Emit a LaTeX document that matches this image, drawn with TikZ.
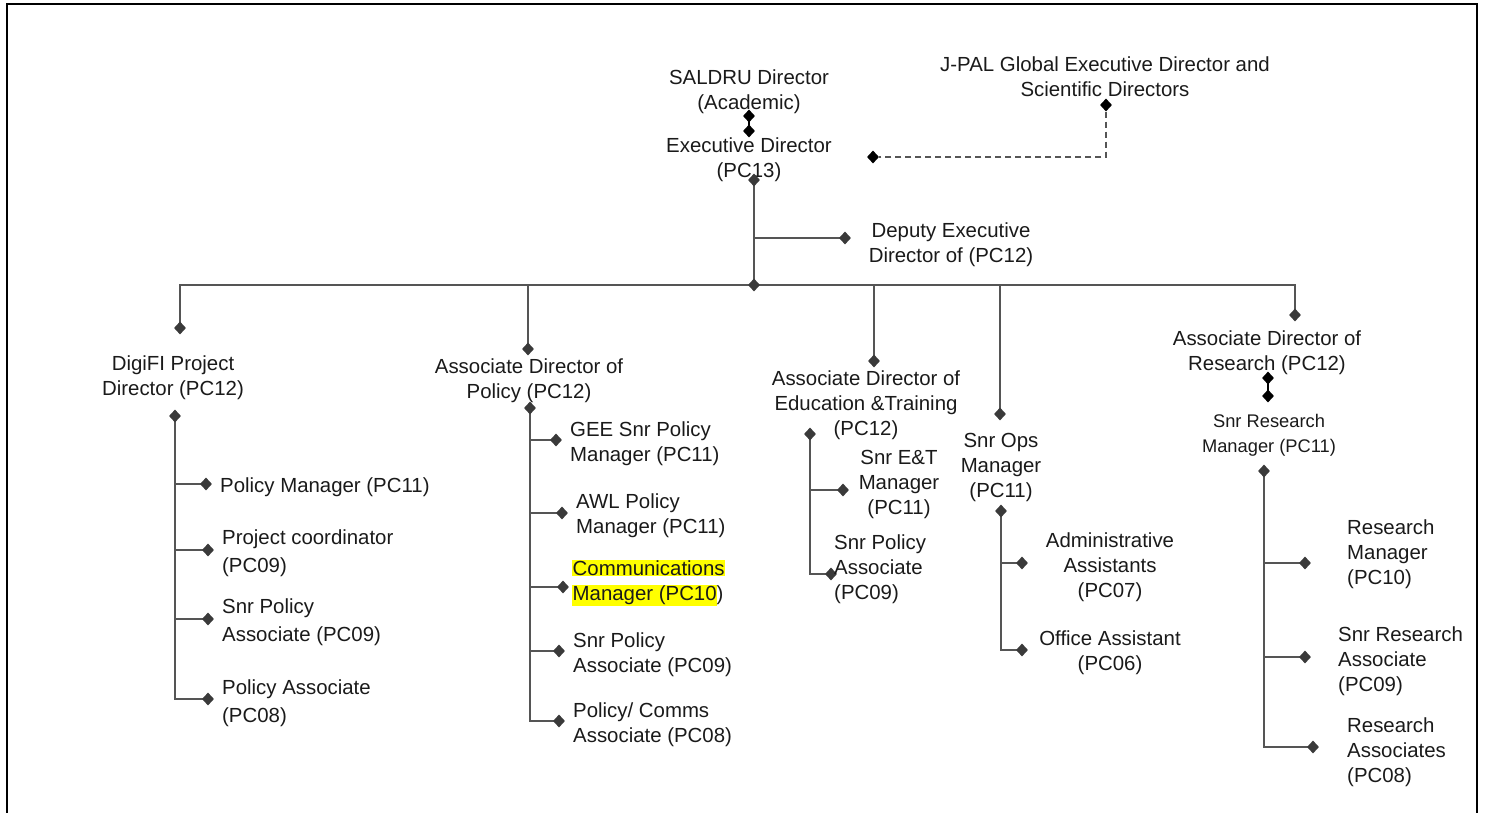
\documentclass[tikz,border=0pt]{standalone}
\usepackage{fontspec}
\setmainfont{Liberation Sans}
\usetikzlibrary{shapes.geometric}
\definecolor{ln}{HTML}{555555}
\definecolor{dm}{HTML}{3A3A3A}
\definecolor{txt}{HTML}{1A1A1A}
\definecolor{hlt}{HTML}{FFFF00}
\setlength{\fboxsep}{0.5pt}
\begin{document}
\begin{tikzpicture}[x=1pt,y=-1pt,
  lbl/.style={font=\fontsize{20.4}{25}\selectfont, inner sep=0pt, text=txt, align=center, yshift=-3pt},
  lbls/.style={lbl, font=\fontsize{18.3}{25}\selectfont},
  lbll/.style={lbl, align=left, anchor=west},
  lblw/.style={lbll, font=\fontsize{20.4}{28}\selectfont},
  dia/.style={diamond, fill=dm, draw=none, inner sep=0pt, minimum width=12pt, minimum height=13pt},
  diab/.style={dia, fill=black},
  conn/.style={draw=ln, line width=1.3pt},
  frame/.style={draw=black, line width=2.2pt}]
\useasboundingbox (0,0) rectangle (1485,813);
% frame
\draw[frame] (7,813) -- (7,4) -- (1477,4) -- (1477,813);

% ---------- top ----------
\node[lbl] (saldru) at (749,89) {SALDRU Director\\(Academic)};
\node[lbl] (exec) at (749,157) {Executive Director\\(PC13)};
\node[lbl] (jpal) at (1105,74) {J-PAL Global Executive Director and\\Scientific Directors};
\node[lbl] (deputy) at (951,242) {Deputy Executive\\Director of (PC12)};

\coordinate (s1c) at (749,116);
\coordinate (s2c) at (749,131);
\draw[draw=black, line width=1.3pt] (s1c) -- (s2c);
\node[diab] (s1) at (s1c) {};
\node[diab] (s2) at (s2c) {};

\node[diab] (j1) at (1106,105) {};
\node[diab] (j2) at (873,157) {};
\draw[conn, dash pattern=on 6pt off 4pt] (j1.south) -- (j1 |- j2) -- (j2.east);

\coordinate (e1c) at (754,180);
\coordinate (busc) at (754,285);
\coordinate (depc) at (845,238);
\draw[conn] (e1c) -- (busc);
\draw[conn] (e1c |- depc) -- (depc);

% bus and drops
\coordinate (c1c) at (180,328);
\coordinate (c2c) at (528,349);
\coordinate (c3c) at (874,361);
\coordinate (c4c) at (1000,414);
\coordinate (c5c) at (1295,315);
\draw[conn] (c1c) -- (c1c |- busc) -- (c5c |- busc) -- (c5c);
\draw[conn] (c2c |- busc) -- (c2c);
\draw[conn] (c3c |- busc) -- (c3c);
\draw[conn] (c4c |- busc) -- (c4c);
\node[dia] (e1) at (e1c) {};
\node[dia] (dep) at (depc) {};
\node[dia] (bus) at (busc) {};
\node[dia] (c1) at (c1c) {};
\node[dia] (c2) at (c2c) {};
\node[dia] (c3) at (c3c) {};
\node[dia] (c4) at (c4c) {};
\node[dia] (c5) at (c5c) {};

% ---------- column 1 ----------
\node[lbl] (digi) at (173,375) {DigiFI Project\\Director (PC12)};
\coordinate (g0c) at (175,416);
\coordinate (g1c) at (206,484);
\coordinate (g2c) at (208,550);
\coordinate (g3c) at (208,619);
\coordinate (g4c) at (208,699);
\draw[conn] (g0c) -- (g0c |- g4c) -- (g4c);
\draw[conn] (g0c |- g1c) -- (g1c);
\draw[conn] (g0c |- g2c) -- (g2c);
\draw[conn] (g0c |- g3c) -- (g3c);
\node[dia] (g0) at (g0c) {};
\node[dia] (g1) at (g1c) {};
\node[dia] (g2) at (g2c) {};
\node[dia] (g3) at (g3c) {};
\node[dia] (g4) at (g4c) {};
\node[lblw] (pm) at (220,484) {Policy Manager (PC11)};
\node[lblw] (pc) at (222,550) {Project coordinator\\(PC09)};
\node[lblw] (spa1) at (222,619) {Snr Policy\\Associate (PC09)};
\node[lblw] (pa1) at (222,700) {Policy Associate\\(PC08)};

% ---------- column 2 ----------
\node[lbl] (adp) at (529,378) {Associate Director of\\Policy (PC12)};
\coordinate (p0c) at (530,408);
\coordinate (p1c) at (556,440);
\coordinate (p2c) at (562,513);
\coordinate (p3c) at (563,587);
\coordinate (p4c) at (559,651);
\coordinate (p5c) at (559,721);
\draw[conn] (p0c) -- (p0c |- p5c) -- (p5c);
\draw[draw=ln, line width=2pt] (p0c) -- (p0c |- p3c);
\draw[conn] (p0c |- p1c) -- (p1c);
\draw[conn] (p0c |- p2c) -- (p2c);
\draw[conn] (p0c |- p3c) -- (p3c);
\draw[conn] (p0c |- p4c) -- (p4c);
\node[dia] (p0) at (p0c) {};
\node[dia] (p1) at (p1c) {};
\node[dia] (p2) at (p2c) {};
\node[dia] (p3) at (p3c) {};
\node[dia] (p4) at (p4c) {};
\node[dia] (p5) at (p5c) {};
\node[lbll] (gee) at (570,441) {GEE Snr Policy\\Manager (PC11)};
\node[lbll] (awl) at (576,513) {AWL Policy\\Manager (PC11)};
\node[lbll] (comm) at (572,580) {\colorbox{hlt}{Communications}\\\colorbox{hlt}{Manager (PC10}\kern-0.5pt)};
\node[lbll] (spa2) at (573,652) {Snr Policy\\Associate (PC09)};
\node[lbll] (pca) at (573,722) {Policy/ Comms\\Associate (PC08)};

% ---------- column 3 ----------
\node[lbl] (ade) at (866,402) {Associate Director of\\Education \&Training\\(PC12)};
\coordinate (t0c) at (810,434);
\coordinate (t1c) at (843,490);
\coordinate (t2c) at (831,574);
\draw[conn] (t0c) -- (t0c |- t2c) -- (t2c);
\draw[conn] (t0c |- t1c) -- (t1c);
\node[dia] (t0) at (t0c) {};
\node[dia] (t1) at (t1c) {};
\node[dia] (t2) at (t2c) {};
\node[lbl] (etm) at (899,481) {Snr E\&T\\Manager\\(PC11)};
\node[lbll] (spa3) at (834,566) {Snr Policy\\Associate\\(PC09)};

% ---------- column 4 ----------
\node[lbl] (ops) at (1001,464) {Snr Ops\\Manager\\(PC11)};
\coordinate (o0c) at (1001,511);
\coordinate (o1c) at (1022,563);
\coordinate (o2c) at (1022,650);
\draw[conn] (o0c) -- (o0c |- o2c) -- (o2c);
\draw[conn] (o0c |- o1c) -- (o1c);
\node[dia] (o0) at (o0c) {};
\node[dia] (o1) at (o1c) {};
\node[dia] (o2) at (o2c) {};
\node[lbl] (adm) at (1110,564) {Administrative\\Assistants\\(PC07)};
\node[lbl] (off) at (1110,650) {Office Assistant\\(PC06)};

% ---------- column 5 ----------
\node[lbl] (adr) at (1267,350) {Associate Director of\\Research (PC12)};
\coordinate (r1c) at (1268,378);
\coordinate (r2c) at (1268,396);
\draw[draw=black, line width=1.3pt] (r1c) -- (r2c);
\node[diab] (r1) at (r1c) {};
\node[diab] (r2) at (r2c) {};
\node[lbls] (srm) at (1269,432) {Snr Research\\Manager (PC11)};
\coordinate (q0c) at (1264,471);
\coordinate (q1c) at (1305,563);
\coordinate (q2c) at (1305,657);
\coordinate (q3c) at (1313,747);
\draw[conn] (q0c) -- (q0c |- q3c) -- (q3c);
\draw[draw=ln, line width=2pt] (q0c) -- (q0c |- q2c);
\draw[conn] (q0c |- q1c) -- (q1c);
\draw[conn] (q0c |- q2c) -- (q2c);
\node[dia] (q0) at (q0c) {};
\node[dia] (q1) at (q1c) {};
\node[dia] (q2) at (q2c) {};
\node[dia] (q3) at (q3c) {};
\node[lbll] (rm) at (1347,551) {Research\\Manager\\(PC10)};
\node[lbll] (sra) at (1338,658) {Snr Research\\Associate\\(PC09)};
\node[lbll] (ra) at (1347,749) {Research\\Associates\\(PC08)};
\end{tikzpicture}
\end{document}
